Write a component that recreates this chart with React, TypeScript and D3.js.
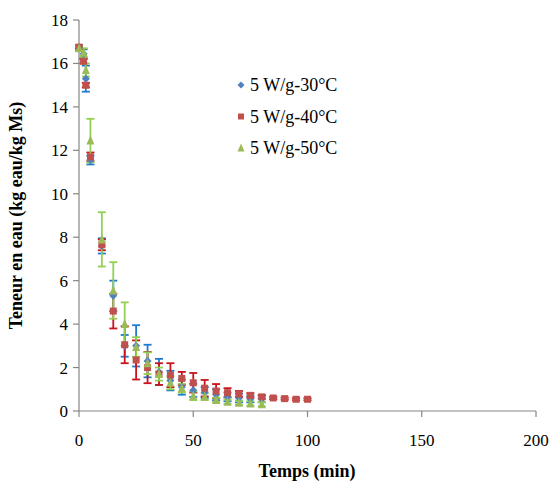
import React from "react";
import * as d3 from "d3";

const times30 = [0, 2, 3, 5, 10, 15, 20, 25, 30, 35, 40, 45, 50, 55, 60, 65, 70, 75, 80];
const values30 = [16.75, 16.45, 15.3, 11.55, 7.6, 5.3, 3.0, 3.0, 2.3, 1.8, 1.4, 1.1, 0.95, 0.85, 0.75, 0.65, 0.6, 0.55, 0.55];
const errors30 = [0.1, 0.2, 0.6, 0.2, 0.35, 0.7, 0.5, 0.95, 0.75, 0.6, 0.45, 0.35, 0.3, 0.25, 0.25, 0.2, 0.2, 0.15, 0.15];

const times40 = [0, 2, 3, 5, 10, 15, 20, 25, 30, 35, 40, 45, 50, 55, 60, 65, 70, 75, 80, 85, 90, 95, 100];
const values40 = [16.75, 16.1, 15.0, 11.7, 7.65, 4.6, 3.05, 2.35, 2.0, 1.7, 1.65, 1.5, 1.3, 1.05, 0.92, 0.84, 0.78, 0.72, 0.65, 0.6, 0.57, 0.54, 0.54];
const errors40 = [0.05, 0.1, 0.1, 0.2, 0.25, 0.8, 0.85, 0.9, 0.72, 0.5, 0.55, 0.3, 0.45, 0.38, 0.32, 0.21, 0.14, 0.1, 0.08, 0.05, 0.05, 0.05, 0.05];

const times50 = [0, 2, 3, 5, 10, 15, 20, 25, 30, 35, 40, 45, 50, 55, 60, 65, 70, 75, 80];
const values50 = [16.7, 16.5, 15.7, 12.45, 7.9, 5.55, 4.0, 2.95, 2.2, 1.7, 1.3, 1.05, 0.7, 0.66, 0.51, 0.43, 0.38, 0.35, 0.31];
const errors50 = [0.1, 0.2, 0.3, 1.0, 1.25, 1.3, 1.0, 0.45, 0.5, 0.3, 0.3, 0.2, 0.2, 0.15, 0.1, 0.1, 0.1, 0.1, 0.1];

const seriesNames = ["5 W/g-30°C", "5 W/g-40°C", "5 W/g-50°C"];
const xTicks = [0, 50, 100, 150, 200];
const yTicks = [0, 2, 4, 6, 8, 10, 12, 14, 16, 18];

const W = 552;
const H = 484;
const left = 79;
const right = 536;
const top = 20;
const bottom = 411;

const serif = "'Liberation Serif', 'Times New Roman', serif";

type Series = {
  name: string;
  t: number[];
  v: number[];
  e: number[];
  fill: string;
  bar: string;
  shape: "diamond" | "square" | "triangle";
};

const series: Series[] = [
  { name: seriesNames[0], t: times30, v: values30, e: errors30, fill: "#4F81BD", bar: "#1F7BD0", shape: "diamond" },
  { name: seriesNames[1], t: times40, v: values40, e: errors40, fill: "#C0504D", bar: "#C8141E", shape: "square" },
  { name: seriesNames[2], t: times50, v: values50, e: errors50, fill: "#9BBB59", bar: "#92D050", shape: "triangle" },
];

function Marker({ shape, x, y, fill, size }: { shape: string; x: number; y: number; fill: string; size: number }) {
  if (shape === "diamond") {
    const s = size / 2 + 0.5;
    return <path d={`M${x},${y - s}L${x + s},${y}L${x},${y + s}L${x - s},${y}Z`} fill={fill} />;
  }
  if (shape === "square") {
    const s = size / 2;
    return <rect x={x - s} y={y - s} width={size} height={size} fill={fill} />;
  }
  const s = size / 2 + 0.5;
  return <path d={`M${x},${y - s - 1}L${x + s},${y + s}L${x - s},${y + s}Z`} fill={fill} />;
}

export default function App() {
  const x = d3.scaleLinear().domain([0, 200]).range([left, right]);
  const y = d3.scaleLinear().domain([0, 18]).range([bottom, top]);
  const axisColor = "#868686";
  const cap = 4;

  return (
    <svg width={W} height={H} style={{ position: "absolute", left: 0, top: 0 }}>
      <rect x={0} y={0} width={W} height={H} fill="#fff" />
      {/* axes */}
      <line x1={left} x2={left} y1={top} y2={bottom} stroke={axisColor} strokeWidth={1.2} />
      <line x1={left} x2={right} y1={bottom} y2={bottom} stroke={axisColor} strokeWidth={1.2} />
      {yTicks.map((t) => (
        <g key={"y" + t}>
          <line x1={left - 6} x2={left} y1={y(t)} y2={y(t)} stroke={axisColor} strokeWidth={1.2} />
          <text x={left - 11} y={y(t) + 6} textAnchor="end" fontFamily={serif} fontSize={17} fill="#000">
            {t}
          </text>
        </g>
      ))}
      {xTicks.map((t) => (
        <g key={"x" + t}>
          <line x1={x(t)} x2={x(t)} y1={bottom} y2={bottom + 6} stroke={axisColor} strokeWidth={1.2} />
          <text x={x(t)} y={446} textAnchor="middle" fontFamily={serif} fontSize={17} fill="#000">
            {t}
          </text>
        </g>
      ))}
      <text x={307} y={477} textAnchor="middle" fontFamily={serif} fontSize={18} fontWeight="bold" fill="#000">
        Temps (min)
      </text>
      <text
        transform={`translate(22,${(top + bottom) / 2}) rotate(-90)`}
        textAnchor="middle"
        fontFamily={serif}
        fontSize={18}
        fontWeight="bold"
        fill="#000"
      >
        Teneur en eau (kg eau/kg Ms)
      </text>
      {/* error bars */}
      {series.map((s) => (
        <g key={"eb" + s.name} stroke={s.bar} strokeWidth={1.8}>
          {s.t.map((t, i) => {
            const cx = x(t);
            const y1 = y(s.v[i] + s.e[i]);
            const y2 = y(s.v[i] - s.e[i]);
            return (
              <g key={i}>
                <line x1={cx} x2={cx} y1={y1} y2={y2} />
                <line x1={cx - cap} x2={cx + cap} y1={y1} y2={y1} />
                <line x1={cx - cap} x2={cx + cap} y1={y2} y2={y2} />
              </g>
            );
          })}
        </g>
      ))}
      {/* markers */}
      {series.map((s) => (
        <g key={"m" + s.name}>
          {s.t.map((t, i) => (
            <Marker key={i} shape={s.shape} x={x(t)} y={y(s.v[i])} fill={s.fill} size={7} />
          ))}
        </g>
      ))}
      {/* legend */}
      {series.map((s, i) => (
        <g key={"lg" + s.name}>
          <Marker shape={s.shape} x={241} y={85 + i * 31.5} fill={s.fill} size={6} />
          <text x={250} y={85 + i * 31.5 + 6} fontFamily={serif} fontSize={18} fill="#000">
            {s.name}
          </text>
        </g>
      ))}
    </svg>
  );
}
